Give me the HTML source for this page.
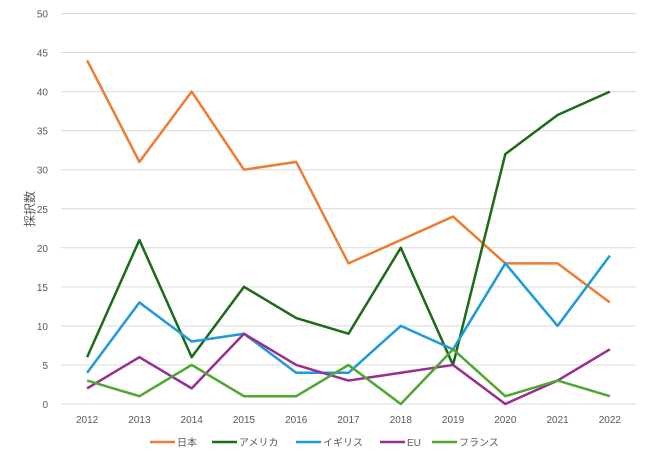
<!DOCTYPE html>
<html><head><meta charset="utf-8">
<style>
body{margin:0;background:#fff;}
svg{display:block;font-family:"Liberation Sans","Noto Sans CJK JP",sans-serif;}
</style></head>
<body>
<svg id="chart" width="650" height="462" viewBox="0 0 650 462"></svg>
<script>
const years=[2012,2013,2014,2015,2016,2017,2018,2019,2020,2021,2022];
const yTicks=[0,5,10,15,20,25,30,35,40,45,50];
const japan=[44,31,40,30,31,18,21,24,18,18,13];
const usa=[6,21,6,15,11,9,20,5,32,37,40];
const uk=[4,13,8,9,4,4,10,7,18,10,19];
const eu=[2,6,2,9,5,3,4,5,0,3,7];
const france=[3,1,5,1,1,5,0,7,1,3,1];
const seriesNames=["日本","アメリカ","イギリス","EU","フランス"];
const seriesSlugs=["japan","usa","uk","eu","france"];
const seriesData=[japan,usa,uk,eu,france];
const colors=["#ED7D31","#1B6B1B","#1E9BD7","#9B2D91","#4EA72E"];

const svg=document.getElementById('chart');
const NS="http://www.w3.org/2000/svg";
const L=61,R=636,T=13.5,B=404;
const step=(R-L)/years.length;
function x(i){return L+step*(i+0.5);}
function y(v){return B-(v/50)*(B-T);}
function mk(tag,attrs){const e=document.createElementNS(NS,tag);for(const k in attrs)e.setAttribute(k,attrs[k]);svg.appendChild(e);return e;}

yTicks.forEach(t=>{
  const g=mk('line',{x1:L,x2:R,y1:y(t),y2:y(t),stroke:'#d9d9d9','stroke-width':1});
  
  
  const tx=mk('text',{x:48,y:y(t)+4,'text-anchor':'end','font-size':10,fill:'#595959'});
  tx.textContent=t;
  
  
});
years.forEach((yr,i)=>{
  const tx=mk('text',{x:x(i),y:423,'text-anchor':'middle','font-size':10,fill:'#595959'});
  tx.textContent=yr;
  
  
});
const yt=mk('text',{x:0,y:0,'text-anchor':'middle','font-size':12,fill:'#595959',transform:'translate(34,209) rotate(-90)'});
yt.textContent='採択数';



seriesData.forEach((d,s)=>{
  const p=mk('polyline',{points:d.map((v,i)=>x(i)+','+y(v)).join(' '),fill:'none',stroke:colors[s],'stroke-width':2.5,'stroke-linejoin':'round'});
  
  
});

const legX=[150,212,296,380,432];
seriesNames.forEach((n,s)=>{
  const l=mk('line',{x1:legX[s],x2:legX[s]+25,y1:442,y2:442,stroke:colors[s],'stroke-width':2.5});
  
  
  const t=mk('text',{x:legX[s]+27,y:446,'font-size':10,fill:'#595959'});
  t.textContent=n;
  
  
});
</script>
</body></html>
